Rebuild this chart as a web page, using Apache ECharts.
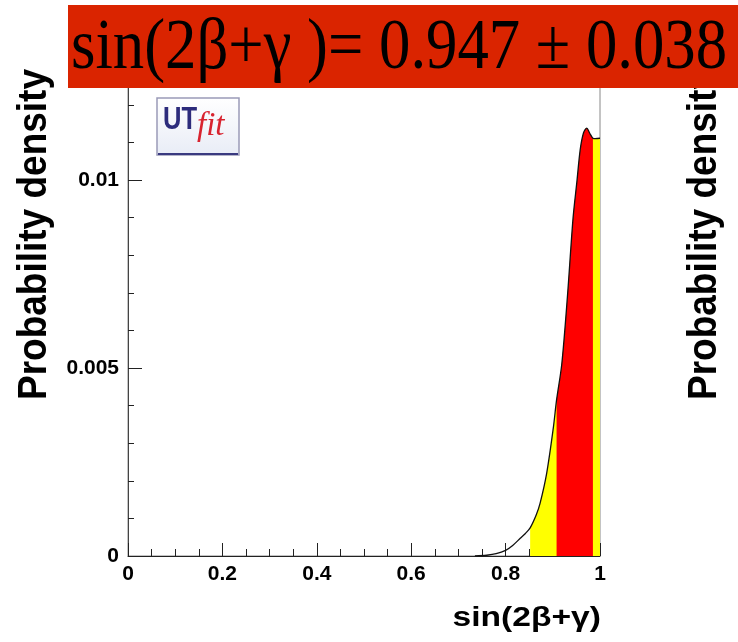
<!DOCTYPE html>
<html>
<head>
<meta charset="utf-8">
<script src="https://cdn.jsdelivr.net/npm/echarts@6/dist/echarts.min.js"></script>
<style>
html,body{margin:0;padding:0;background:#fff;}
#chart{width:738px;height:642px;}
</style>
</head>
<body>
<div id="chart"></div>
<script>
// x values of sin(2beta+gamma) and probability density
const xValues = [0.735, 0.76, 0.78, 0.80, 0.815, 0.831, 0.842, 0.852, 0.865, 0.873, 0.887, 0.901, 0.908, 0.919, 0.931, 0.943, 0.951, 0.958, 0.965, 0.972, 0.978, 0.985, 0.99, 1.0];
const density = [0, 0.00002, 0.00006, 0.00015, 0.00028, 0.00047, 0.0006, 0.00075, 0.0011, 0.0014, 0.0022, 0.0034, 0.00415, 0.0051, 0.0069, 0.009, 0.00995, 0.0108, 0.01125, 0.01138, 0.01125, 0.01111, 0.0111, 0.01111];
const band95 = [0.852, 1.0];
const band68 = [0.908, 0.985];
const xTicks = [0, 0.2, 0.4, 0.6, 0.8, 1];
const yTickLabels = [0, 0.005, 0.01];
const titleText = 'sin(2\u03b2+\u03b3 )= 0.947 \u00b1 0.038';
const xName = 'sin(2\u03b2+\u03b3)';
const yName = 'Probability density';

const curve = xValues.map((x, i) => [x, density[i]]);
const inBand = (b) => curve.filter(p => p[0] >= b[0] - 1e-9 && p[0] <= b[1] + 1e-9);

const chart = echarts.init(document.getElementById('chart'), null, {renderer: 'canvas'});
const tickFont = {fontFamily: 'Liberation Sans', fontWeight: 'bold', fontSize: 21, color: '#000'};

chart.setOption({
  animation: false,
  backgroundColor: '#fff',
  grid: {left: 128, right: 138, top: 67.2, height: 488.8, show: true, borderColor: '#888', borderWidth: 1, backgroundColor: 'transparent'},
  xAxis: {
    type: 'value', min: 0, max: 1, interval: 0.2,
    axisLine: {show: true, lineStyle: {color: '#222', width: 1}},
    axisTick: {show: true, inside: true, length: 13, lineStyle: {color: '#222'}},
    minorTick: {show: true, splitNumber: 4, length: 7, lineStyle: {color: '#222'}},
    splitLine: {show: false},
    axisLabel: Object.assign({margin: 8, formatter: v => (xTicks.some(t => Math.abs(t - v) < 1e-9) ? String(+v.toFixed(1)) : '')}, tickFont)
  },
  yAxis: [{
    type: 'value', min: 0, max: 0.013, interval: 0.005,
    axisLine: {show: true, lineStyle: {color: '#444', width: 1}},
    axisTick: {show: true, inside: true, length: 14, lineStyle: {color: '#222'}},
    splitLine: {show: false},
    axisLabel: Object.assign({margin: 9, showMaxLabel: false, formatter: v => (yTickLabels.some(t => Math.abs(t - v) < 1e-9) ? String(+v.toFixed(3)) : '')}, tickFont)
  }, {
    type: 'value', min: 0, max: 0.013, interval: 0.001, position: 'left',
    axisLine: {show: false},
    axisTick: {show: true, inside: true, length: 6, lineStyle: {color: '#222'}},
    splitLine: {show: false},
    axisLabel: {show: false}
  }],
  series: [
    {type: 'line', data: inBand(band95), smooth: 0.3, symbol: 'none', lineStyle: {width: 0}, areaStyle: {color: '#ffff00', opacity: 1}, z: 1},
    {type: 'line', data: inBand(band68), smooth: 0.3, symbol: 'none', lineStyle: {width: 0}, areaStyle: {color: '#ff0000', opacity: 1}, z: 2},
    {type: 'line', data: curve, smooth: 0.3, symbol: 'none', lineStyle: {width: 1.3, color: '#111'}, z: 3}
  ],
  graphic: [
    {type: 'rect', shape: {x: 68, y: 5, width: 680, height: 83}, style: {fill: '#da2400'}, z: 100},
    {type: 'text', x: 71, y: 49, scaleX: 0.98, scaleY: 1.12, z: 101, style: {text: titleText, font: '64px "Liberation Serif"', fill: '#000', align: 'left', verticalAlign: 'middle'}},
    {type: 'text', x: 35, y: 400, rotation: Math.PI / 2, scaleY: 1.1, z: 50, style: {text: yName, font: 'bold 37px "Liberation Sans"', fill: '#000', align: 'left', verticalAlign: 'middle'}},
    {type: 'text', x: 705, y: 400, rotation: Math.PI / 2, scaleY: 1.1, z: 50, style: {text: yName, font: 'bold 37px "Liberation Sans"', fill: '#000', align: 'left', verticalAlign: 'middle'}},
    {type: 'text', x: 601, y: 618, scaleX: 1.2, z: 50, style: {text: xName, font: 'bold 28px "Liberation Sans"', fill: '#000', align: 'right', verticalAlign: 'middle'}},
    {type: 'group', x: 157, y: 98, z: 60, children: [
      {type: 'rect', shape: {x: 0, y: 0, width: 82, height: 57}, style: {fill: new echarts.graphic.LinearGradient(0, 0, 0, 1, [{offset: 0, color: '#ffffff'}, {offset: 1, color: '#e8ecf6'}]), stroke: '#9a9ab8', lineWidth: 1.5}},
      {type: 'line', shape: {x1: 1, y1: 56, x2: 81, y2: 56}, style: {stroke: '#3a3a80', lineWidth: 2}},
      {type: 'text', x: 6, y: 6, scaleX: 0.8, style: {text: 'UT', font: 'bold 32px "Liberation Sans"', fill: '#2d2c7c', align: 'left', verticalAlign: 'top'}},
      {type: 'text', x: 40, y: 12, style: {text: 'fit', font: 'italic 33px "Liberation Serif"', fill: '#d8232f', align: 'left', verticalAlign: 'top'}}
    ]}
  ]
});
</script>
</body>
</html>
